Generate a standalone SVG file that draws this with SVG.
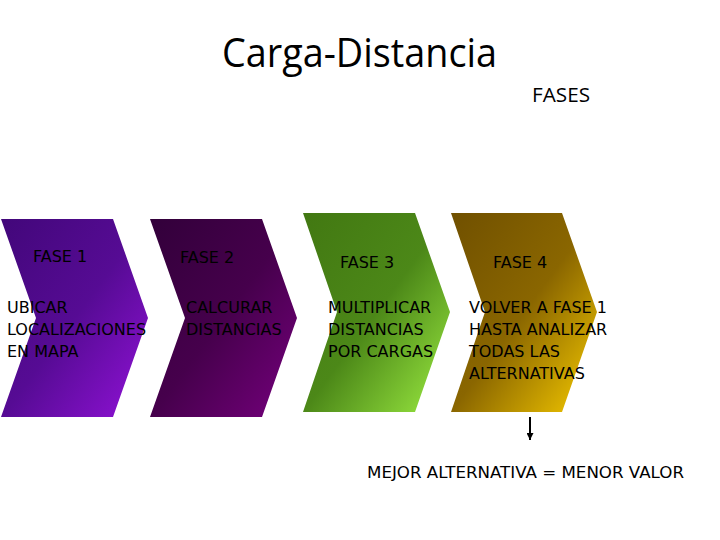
<svg xmlns="http://www.w3.org/2000/svg" width="720" height="540" viewBox="0 0 720 540">
<style>
.t{font-family:"DejaVu Sans",Verdana,sans-serif;font-size:16px;fill:#000}
.title{font-family:"Open Sans","Noto Sans",sans-serif;fill:#000}
</style>
<defs>
<linearGradient id="g1" x1="0" y1="0" x2="1" y2="1">
<stop offset="0" stop-color="#42077a"/><stop offset="0.5" stop-color="#560b94"/><stop offset="1" stop-color="#9212d8"/>
</linearGradient>
<linearGradient id="g2" x1="0" y1="0" x2="1" y2="1">
<stop offset="0" stop-color="#32003a"/><stop offset="0.5" stop-color="#46004c"/><stop offset="1" stop-color="#76007e"/>
</linearGradient>
<linearGradient id="g3" x1="0" y1="0" x2="1" y2="1">
<stop offset="0" stop-color="#427812"/><stop offset="0.5" stop-color="#4c8818"/><stop offset="1" stop-color="#9cec42"/>
</linearGradient>
<linearGradient id="g4" x1="0" y1="0" x2="1" y2="1">
<stop offset="0" stop-color="#705000"/><stop offset="0.5" stop-color="#8a6600"/><stop offset="1" stop-color="#f8cc00"/>
</linearGradient>
<marker id="ah" viewBox="0 0 10 10" refX="10" refY="5" markerWidth="8" markerHeight="7" markerUnits="userSpaceOnUse" orient="auto">
<path d="M0,0 L10,5 L0,10 Z" fill="#000"/>
</marker>
</defs>
<text class="title" x="222" y="67" font-size="40" textLength="275" lengthAdjust="spacingAndGlyphs">Carga-Distancia</text>
<text class="title" x="532" y="102" font-size="20" textLength="58" lengthAdjust="spacingAndGlyphs">FASES</text>
<g id="fase1">
<polygon points="1,219 113,219 148,318 113,417 1,417 36,318" fill="url(#g1)"/>
<text class="t" x="33" y="262">FASE 1</text>
<text class="t" x="7" y="313">UBICAR</text>
<text class="t" x="7" y="335">LOCALIZACIONES</text>
<text class="t" x="7" y="357">EN MAPA</text>
</g>
<g id="fase2">
<polygon points="150,219 262,219 297,318 262,417 150,417 185,318" fill="url(#g2)"/>
<text class="t" x="180" y="263">FASE 2</text>
<text class="t" x="186" y="313">CALCURAR</text>
<text class="t" x="186" y="335">DISTANCIAS</text>
</g>
<g id="fase3">
<polygon points="303,213 415,213 450,312 415,412 303,412 337,312" fill="url(#g3)"/>
<text class="t" x="340" y="268">FASE 3</text>
<text class="t" x="328" y="313">MULTIPLICAR</text>
<text class="t" x="328" y="335">DISTANCIAS</text>
<text class="t" x="328" y="357">POR CARGAS</text>
</g>
<g id="fase4">
<polygon points="451,213 562,213 597,312 562,412 451,412 485,312" fill="url(#g4)"/>
<text class="t" x="493" y="268">FASE 4</text>
<text class="t" x="469" y="313">VOLVER A FASE 1</text>
<text class="t" x="469" y="335">HASTA ANALIZAR</text>
<text class="t" x="469" y="357">TODAS LAS</text>
<text class="t" x="469" y="379">ALTERNATIVAS</text>
</g>
<g id="connectors">
<line x1="530" y1="417" x2="530" y2="440" stroke="#000" stroke-width="2" marker-end="url(#ah)"/>
</g>
<g id="result">
<text class="t" x="367" y="478" textLength="317" lengthAdjust="spacingAndGlyphs">MEJOR ALTERNATIVA = MENOR VALOR</text>
</g>
</svg>
